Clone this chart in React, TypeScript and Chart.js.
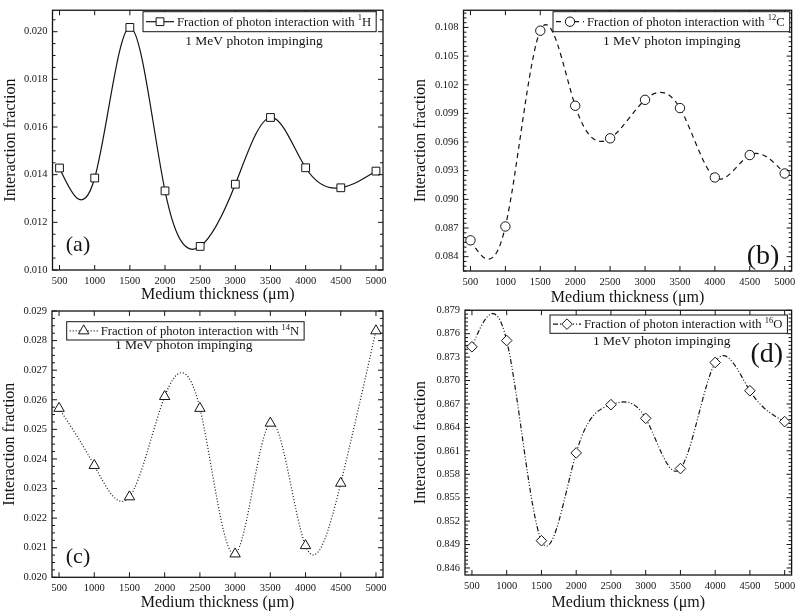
import React, { useEffect, useRef } from 'react';
import { Chart, registerables } from 'chart.js';

Chart.register(...registerables);

// ---------- data ----------
const thickness = [500, 1000, 1500, 2000, 2500, 3000, 3500, 4000, 4500, 5000];
const xTickValues = [500, 1000, 1500, 2000, 2500, 3000, 3500, 4000, 4500, 5000];

const fractionH = [0.01428, 0.01386, 0.02018, 0.01332, 0.01099, 0.0136, 0.0164, 0.01429, 0.01345, 0.01415];
const fractionC = [0.08571, 0.08716, 0.10766, 0.0998, 0.09639, 0.10042, 0.09956, 0.09229, 0.09464, 0.09271];
const fractionN = [0.02571, 0.02378, 0.02272, 0.02611, 0.02571, 0.02079, 0.02521, 0.02107, 0.02318, 0.02833];
const fractionO = [0.87432, 0.87512, 0.84949, 0.86073, 0.86691, 0.86516, 0.85873, 0.87231, 0.86869, 0.86474];

const yTicksH = [0.01, 0.012, 0.014, 0.016, 0.018, 0.02];
const yTicksC = [0.084, 0.087, 0.09, 0.093, 0.096, 0.099, 0.102, 0.105, 0.108];
const yTicksN = [0.02, 0.021, 0.022, 0.023, 0.024, 0.025, 0.026, 0.027, 0.028, 0.029];
const yTicksO = [0.846, 0.849, 0.852, 0.855, 0.858, 0.861, 0.864, 0.867, 0.87, 0.873, 0.876, 0.879];

const legendMain = 'Fraction of photon interaction with ';
const legendLine2 = '1 MeV photon impinging';
const xTitle = 'Medium thickness (\u03bcm)';
const yTitle = 'Interaction fraction';

// ---------- style ----------
const INK = '#141414';
const SERIF = '"Liberation Serif", "Times New Roman", serif';
const LEG_FONT = 12.7;

type Cfg = {
  key: string;
  values: number[];
  yTicks: number[];
  yMin: number;
  yMax: number;
  minor: number;
  pointStyle: string;
  radius: number;
  dash: number[];
  mass: string;
  sym: string;
  label: string;
  box: { x: number; y: number; w: number; h: number };
  area: { left: number; right: number; top: number; bottom: number };
  yTitlePad: number;
  xTitlePad: number;
  legend: { x: number; y: number; h: number; l2x: number; l2y: number };
  tag: { x: number; y: number; size: number };
};

const panels: Cfg[] = [
  {
    key: 'a', values: fractionH, yTicks: yTicksH, yMin: 0.01, yMax: 0.0209, minor: 3,
    pointStyle: 'rect', radius: 5.5, dash: [], mass: '1', sym: 'H', label: '(a)',
    box: { x: 0, y: 0, w: 400, h: 310 },
    area: { left: 52.5, right: 383, top: 5, bottom: 270 },
    yTitlePad: 1.4, xTitlePad: 5.4,
    legend: { x: 143, y: 11.7, h: 20, l2x: 254, l2y: 41.7 },
    tag: { x: 78, y: 245, size: 22 },
  },
  {
    key: 'b', values: fractionC, yTicks: yTicksC, yMin: 0.0825, yMax: 0.1098, minor: 5,
    pointStyle: 'circle', radius: 4.7, dash: [5, 4], mass: '12', sym: 'C', label: '(b)',
    box: { x: 400, y: 0, w: 400, h: 310 },
    area: { left: 63.5, right: 394, top: 7, bottom: 271 },
    yTitlePad: 11.4, xTitlePad: 2.4,
    legend: { x: 153, y: 11.7, h: 20, l2x: 271.7, l2y: 41.7 },
    tag: { x: 363, y: 256.7, size: 28 },
  },
  {
    key: 'c', values: fractionN, yTicks: yTicksN, yMin: 0.02, yMax: 0.029, minor: 3,
    pointStyle: 'triangle', radius: 6, dash: [1, 2], mass: '14', sym: 'N', label: '(c)',
    box: { x: 0, y: 300, w: 400, h: 315 },
    area: { left: 52, right: 383, top: 11, bottom: 277.3 },
    yTitlePad: 0, xTitlePad: 2.4,
    legend: { x: 66.7, y: 21.7, h: 18.3, l2x: 183.7, l2y: 45 },
    tag: { x: 78, y: 257, size: 22 },
  },
  {
    key: 'd', values: fractionO, yTicks: yTicksO, yMin: 0.8451, yMax: 0.879, minor: 5,
    pointStyle: 'rectRot', radius: 5.3, dash: [5, 2, 1, 2, 1, 2], mass: '16', sym: 'O', label: '(d)',
    box: { x: 400, y: 300, w: 400, h: 315 },
    area: { left: 65, right: 394, top: 9.5, bottom: 275 },
    yTitlePad: 11.4, xTitlePad: 2.4,
    legend: { x: 150, y: 15, h: 18.3, l2x: 261.7, l2y: 41.7 },
    tag: { x: 366.7, y: 55, size: 28 },
  },
];

// ---------- natural cubic spline control points (styling of the line path) ----------
const splinePlugin = {
  id: 'naturalSpline',
  beforeDatasetDraw(chart: any, args: any) {
    const meta = args.meta;
    const line = meta.dataset;
    const pts = meta.data;
    if (!line || !pts || pts.length < 3) return;
    if (typeof line.updateControlPoints === 'function') line.updateControlPoints(chart.chartArea, 'x');
    const n = pts.length;
    const xs = pts.map((p: any) => p.x);
    const ys = pts.map((p: any) => p.y);
    const h: number[] = [];
    const d: number[] = [];
    for (let i = 0; i < n - 1; i++) {
      h[i] = xs[i + 1] - xs[i];
      d[i] = (ys[i + 1] - ys[i]) / h[i];
    }
    const M = new Array(n).fill(0);
    const b: number[] = [];
    const r: number[] = [];
    for (let i = 1; i < n - 1; i++) {
      b[i] = 2 * (h[i - 1] + h[i]);
      r[i] = 6 * (d[i] - d[i - 1]);
    }
    for (let i = 2; i < n - 1; i++) {
      const w = h[i - 1] / b[i - 1];
      b[i] -= w * h[i - 1];
      r[i] -= w * r[i - 1];
    }
    for (let i = n - 2; i >= 1; i--) {
      M[i] = (r[i] - h[i] * M[i + 1]) / b[i];
    }
    const m: number[] = [];
    for (let i = 0; i < n - 1; i++) m[i] = d[i] - (h[i] * (2 * M[i] + M[i + 1])) / 6;
    m[n - 1] = d[n - 2] + (h[n - 2] * (M[n - 2] + 2 * M[n - 1])) / 6;
    for (let i = 0; i < n - 1; i++) {
      pts[i].cp2x = xs[i] + h[i] / 3;
      pts[i].cp2y = ys[i] + (m[i] * h[i]) / 3;
      pts[i + 1].cp1x = xs[i + 1] - h[i] / 3;
      pts[i + 1].cp1y = ys[i + 1] - (m[i + 1] * h[i]) / 3;
    }
    pts[0].cp1x = xs[0];
    pts[0].cp1y = ys[0];
    pts[n - 1].cp2x = xs[n - 1];
    pts[n - 1].cp2y = ys[n - 1];
  },
};

function drawMarker(ctx: CanvasRenderingContext2D, style: string, x: number, y: number, r: number) {
  ctx.beginPath();
  if (style === 'rect') {
    const s = r * Math.SQRT1_2;
    ctx.rect(x - s, y - s, 2 * s, 2 * s);
  } else if (style === 'circle') {
    ctx.arc(x, y, r, 0, Math.PI * 2);
  } else if (style === 'triangle') {
    ctx.moveTo(x, y - r);
    ctx.lineTo(x + r * Math.sin((2 * Math.PI) / 3), y - r * Math.cos((2 * Math.PI) / 3));
    ctx.lineTo(x + r * Math.sin((4 * Math.PI) / 3), y - r * Math.cos((4 * Math.PI) / 3));
    ctx.closePath();
  } else {
    ctx.moveTo(x - r, y);
    ctx.lineTo(x, y - r);
    ctx.lineTo(x + r, y);
    ctx.lineTo(x, y + r);
    ctx.closePath();
  }
  ctx.fillStyle = '#ffffff';
  ctx.fill();
  ctx.stroke();
}

function makeDeco(cfg: Cfg) {
  return {
    id: 'deco_' + cfg.key,
    afterDraw(chart: any) {
      const ctx: CanvasRenderingContext2D = chart.ctx;
      const { left, right, top, bottom } = chart.chartArea;
      const xs = chart.scales.x;
      const ys = chart.scales.y;
      ctx.save();
      ctx.strokeStyle = INK;
      ctx.lineWidth = 1.3;
      ctx.strokeRect(left, top, right - left, bottom - top);

      const seg = (x1: number, y1: number, x2: number, y2: number) => {
        ctx.beginPath();
        ctx.moveTo(x1, y1);
        ctx.lineTo(x2, y2);
        ctx.stroke();
      };
      const MAJ = 5;
      const MIN = 3;
      ctx.lineWidth = 1;
      for (const v of xTickValues) {
        const px = xs.getPixelForValue(v);
        seg(px, bottom, px, bottom - MAJ);
        seg(px, top, px, top + MAJ);
      }
      const t0 = cfg.yTicks[0];
      const step = cfg.yTicks[1] - cfg.yTicks[0];
      const mstep = step / (cfg.minor + 1);
      const iStart = Math.ceil((ys.min - t0) / mstep - 1e-6);
      const iEnd = Math.floor((ys.max - t0) / mstep + 1e-6);
      for (let i = iStart; i <= iEnd; i++) {
        const v = t0 + i * mstep;
        const py = ys.getPixelForValue(v);
        const major = ((i % (cfg.minor + 1)) + (cfg.minor + 1)) % (cfg.minor + 1) === 0;
        const L = major ? MAJ : MIN;
        seg(left, py, left + L, py);
        seg(right, py, right - L, py);
      }

      // legend box
      const lg = cfg.legend;
      ctx.font = `${LEG_FONT}px ${SERIF}`;
      const wMain = ctx.measureText(legendMain).width;
      const wSym = ctx.measureText(cfg.sym).width;
      ctx.font = `8.5px ${SERIF}`;
      const wSup = ctx.measureText(cfg.mass).width;
      const textX = lg.x + 34;
      const boxW = 34 + wMain + wSup + wSym + 5;
      ctx.fillStyle = '#ffffff';
      ctx.fillRect(lg.x, lg.y, boxW, lg.h);
      ctx.lineWidth = 1;
      ctx.strokeStyle = INK;
      ctx.strokeRect(lg.x, lg.y, boxW, lg.h);
      const midY = lg.y + lg.h / 2;
      ctx.lineWidth = 1.2;
      ctx.setLineDash(cfg.dash);
      seg(lg.x + 3, midY, lg.x + 31, midY);
      ctx.setLineDash([]);
      ctx.lineWidth = 1;
      drawMarker(ctx, cfg.pointStyle, lg.x + 17, midY, cfg.radius);

      ctx.fillStyle = INK;
      ctx.textAlign = 'left';
      ctx.textBaseline = 'middle';
      ctx.font = `${LEG_FONT}px ${SERIF}`;
      ctx.fillText(legendMain, textX, midY + 1);
      ctx.font = `8.5px ${SERIF}`;
      ctx.fillText(cfg.mass, textX + wMain, midY - 3.5);
      ctx.font = `${LEG_FONT}px ${SERIF}`;
      ctx.fillText(cfg.sym, textX + wMain + wSup, midY + 1);

      ctx.textAlign = 'center';
      ctx.font = `13.5px ${SERIF}`;
      ctx.fillText(legendLine2, lg.l2x, lg.l2y);

      ctx.font = `${cfg.tag.size}px ${SERIF}`;
      ctx.fillText(cfg.label, cfg.tag.x, cfg.tag.y);
      ctx.restore();
    },
  };
}

function Panel({ cfg }: { cfg: Cfg }) {
  const ref = useRef<HTMLCanvasElement | null>(null);
  useEffect(() => {
    const canvas = ref.current;
    if (!canvas) return;
    const { w, h } = cfg.box;
    const chart = new Chart(canvas, {
      type: 'line',
      data: {
        datasets: [
          {
            data: thickness.map((x, i) => ({ x, y: cfg.values[i] })),
            borderColor: INK,
            borderWidth: 1.2,
            borderDash: cfg.dash,
            tension: 0.4,
            fill: false,
            pointStyle: cfg.pointStyle as any,
            pointRadius: cfg.radius,
            pointBorderWidth: 1,
            pointBorderColor: INK,
            pointBackgroundColor: '#ffffff',
            clip: 2,
          } as any,
        ],
      },
      options: {
        animation: false,
        responsive: false,
        events: [],
        layout: { padding: { left: 0, right: w - cfg.area.right, top: cfg.area.top, bottom: 0 } },
        plugins: { legend: { display: false }, tooltip: { enabled: false } },
        scales: {
          x: {
            type: 'linear',
            min: 400,
            max: 5100,
            afterBuildTicks: (s: any) => {
              s.ticks = xTickValues.map((v) => ({ value: v }));
            },
            afterFit: (s: any) => {
              s.height = h - cfg.area.bottom;
            },
            grid: { display: false, drawTicks: false },
            border: { display: false },
            ticks: {
              autoSkip: false,
              maxRotation: 0,
              padding: 4.7,
              color: INK,
              font: { family: SERIF, size: 10.5 },
              callback: (v: any) => String(v),
            },
            title: {
              display: true,
              text: xTitle,
              color: INK,
              font: { family: SERIF, size: 16 },
              padding: { top: 0, bottom: cfg.xTitlePad },
            },
          },
          y: {
            type: 'linear',
            min: cfg.yMin,
            max: cfg.yMax,
            afterBuildTicks: (s: any) => {
              s.ticks = cfg.yTicks.map((v) => ({ value: v }));
            },
            afterFit: (s: any) => {
              s.width = cfg.area.left;
            },
            grid: { display: false, drawTicks: false },
            border: { display: false },
            ticks: {
              autoSkip: false,
              padding: 5,
              color: INK,
              font: { family: SERIF, size: 10.5, lineHeight: 1 },
              callback: (v: any) => Number(v).toFixed(3),
            },
            title: {
              display: true,
              text: yTitle,
              color: INK,
              font: { family: SERIF, size: 16 },
              padding: { top: cfg.yTitlePad, bottom: 0 },
            },
          },
        },
      } as any,
      plugins: [splinePlugin as any, makeDeco(cfg) as any],
    });
    return () => chart.destroy();
  }, [cfg]);
  return (
    <canvas
      ref={ref}
      width={cfg.box.w}
      height={cfg.box.h}
      style={{ position: 'absolute', left: cfg.box.x, top: cfg.box.y, width: cfg.box.w, height: cfg.box.h }}
    />
  );
}

export default function App() {
  return (
    <div style={{ position: 'absolute', left: 0, top: 0, width: 800, height: 615, background: '#ffffff', overflow: 'hidden' }}>
      {panels.map((p) => (
        <Panel key={p.key} cfg={p} />
      ))}
    </div>
  );
}
